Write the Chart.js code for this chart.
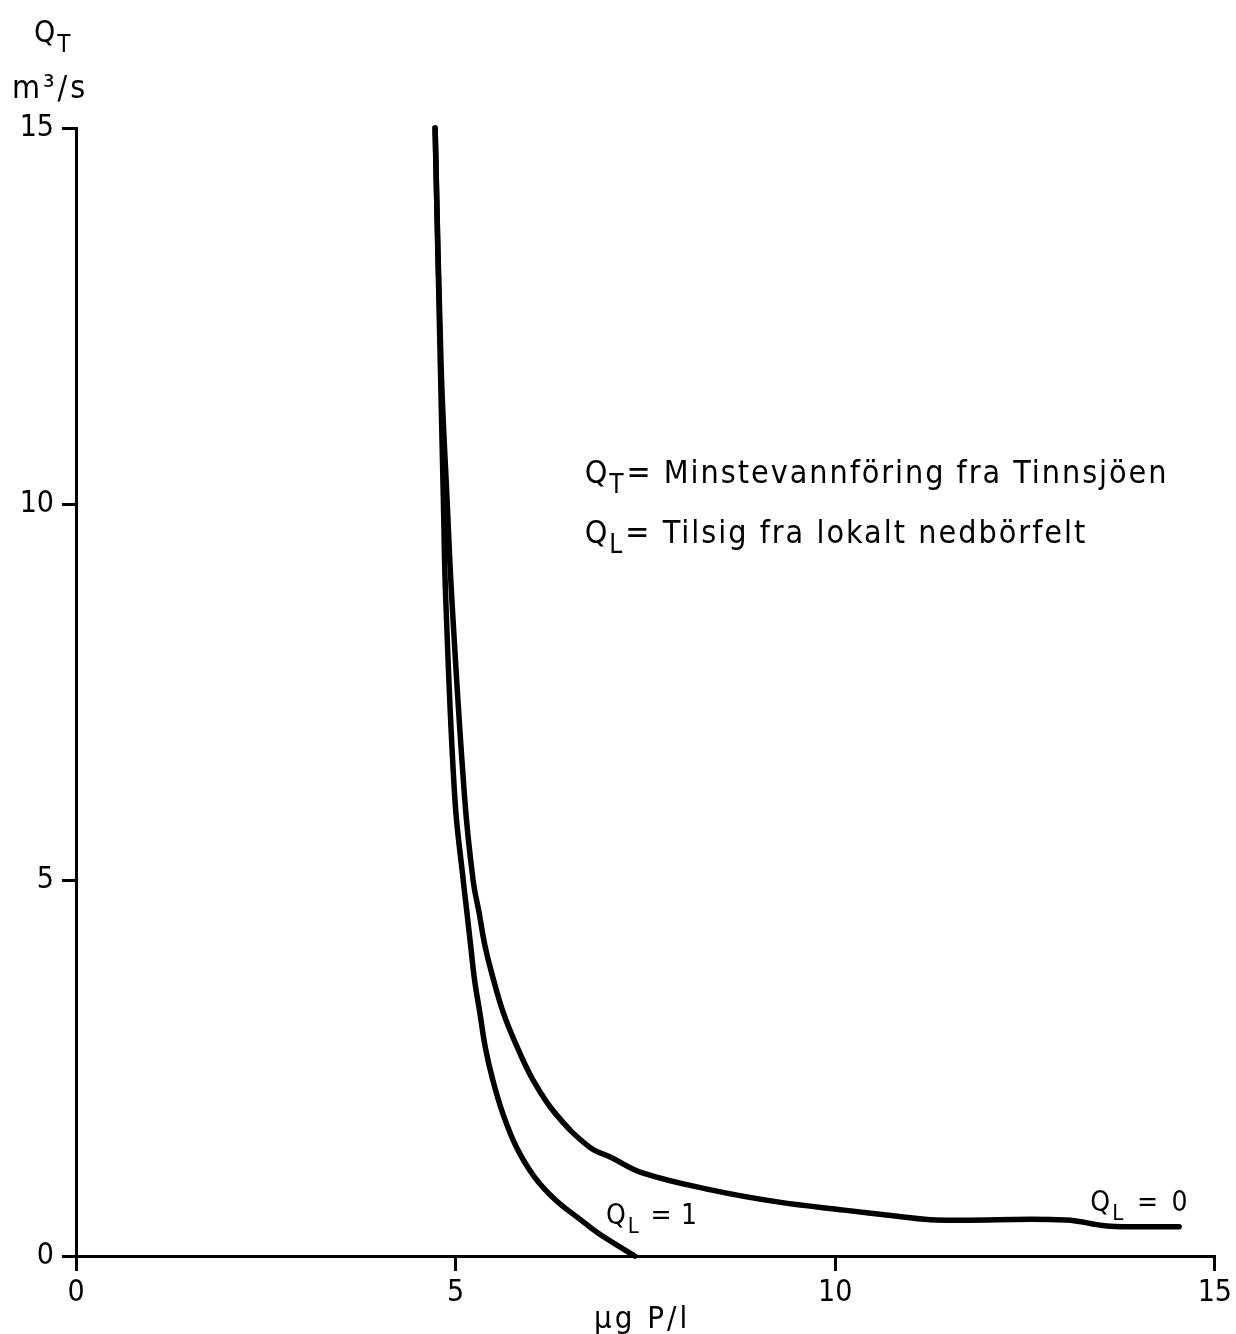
<!DOCTYPE html>
<html>
<head>
<meta charset="utf-8">
<script src="https://cdn.jsdelivr.net/npm/chart.js@4.4.0/dist/chart.umd.min.js"></script>
<style>
html, body { margin: 0; padding: 0; background: #fff; }
#wrap { width: 1236px; height: 1334px; position: relative; }
</style>
</head>
<body>
<div id="wrap"><canvas id="chart"></canvas></div>
<script>
// Dữ liệu
const X_MIN = 0, X_MAX = 15;
const Y_MIN = 0, Y_MAX = 15;
const TICK_STEP = 5;

// Đường Q_L = 0
const ql0X = [4.73, 4.81, 4.89, 4.95, 5.12, 5.23, 5.31, 5.39, 5.50, 5.63, 5.81, 6.02, 6.31, 6.76, 7.05, 7.45, 8.36, 9.24, 10.12, 10.82, 11.33, 13.04, 13.58, 14.53];
const ql0Y = [15.0, 11.8, 10.0, 8.74, 6.08, 5.00, 4.56, 4.11, 3.67, 3.23, 2.78, 2.34, 1.90, 1.45, 1.31, 1.11, 0.88, 0.72, 0.61, 0.53, 0.48, 0.48, 0.40, 0.39];

// Đường Q_L = 1
const ql1X = [4.73, 4.80, 4.84, 4.87, 4.99, 5.10, 5.15, 5.20, 5.25, 5.32, 5.39, 5.49, 5.62, 5.80, 6.04, 6.32, 6.61, 6.87, 7.36];
const ql1Y = [15.0, 11.8, 10.0, 8.74, 6.08, 5.00, 4.56, 4.11, 3.67, 3.23, 2.78, 2.34, 1.90, 1.45, 1.05, 0.74, 0.51, 0.31, 0.0];

// Nhãn
const yTitleMain = 'Q', yTitleSub = 'T', yUnit = 'm³/s';
const xTitle = 'µg P/l';
const legendLines = [
    { main: 'Q', sub: 'T', text: '= Minstevannföring fra Tinnsjöen', x: 6.70, y: 10.28, width: 542 },
    { main: 'Q', sub: 'L', text: '= Tilsig fra lokalt nedbörfelt', x: 6.70, y: 9.48, width: 462 }
];
const curveLabels = [
    { main: 'Q', sub: 'L', text: ' = 1', x: 6.98, y: 0.42, width: 56 },
    { main: 'Q', sub: 'L', text: ' = 0', x: 13.36, y: 0.60, width: 64 }
];

const FONT = '"Liberation Sans Narrow", "DejaVu Sans Condensed", "DejaVu Sans", sans-serif';

function toPoints(xs, ys) {
    return xs.map((x, i) => ({ x: x, y: ys[i] }));
}

// Vẽ chữ có chỉ số dưới (Q_T, Q_L), phần chữ sau được giãn cho vừa độ rộng
function drawSubText(ctx, main, sub, rest, x, y, size, width) {
    ctx.save();
    ctx.fillStyle = '#000';
    ctx.textBaseline = 'alphabetic';
    ctx.textAlign = 'left';
    ctx.font = size + 'px ' + FONT;
    ctx.letterSpacing = '0px';
    ctx.fillText(main, x, y);
    let cx = x + ctx.measureText(main).width + 2;
    ctx.font = Math.round(size * 0.8) + 'px ' + FONT;
    ctx.fillText(sub, cx, y + size * 0.32);
    cx += ctx.measureText(sub).width + 3;
    if (rest) {
        ctx.font = size + 'px ' + FONT;
        let spacing = 0;
        if (width) {
            const w = ctx.measureText(rest).width;
            spacing = Math.max(0, (width - w) / rest.length);
        }
        ctx.letterSpacing = spacing.toFixed(2) + 'px';
        ctx.fillText(rest, cx, y);
    }
    ctx.restore();
}

const textPlugin = {
    id: 'textPlugin',
    afterDraw(chart) {
        const ctx = chart.ctx;
        const xs = chart.scales.x, ys = chart.scales.y;

        // Tiêu đề trục y
        drawSubText(ctx, yTitleMain, yTitleSub, '', 34, 42, 30, 0);
        ctx.save();
        ctx.fillStyle = '#000';
        ctx.textAlign = 'left';
        ctx.textBaseline = 'alphabetic';
        ctx.font = '32px ' + FONT;
        ctx.letterSpacing = '3px';
        ctx.fillText(yUnit, 12, 98);
        // Tiêu đề trục x
        ctx.font = '31px ' + FONT;
        ctx.letterSpacing = '3px';
        ctx.fillText(xTitle, 594, 1328);
        ctx.restore();

        legendLines.forEach(l => {
            drawSubText(ctx, l.main, l.sub, l.text, xs.getPixelForValue(l.x), ys.getPixelForValue(l.y), 32, l.width);
        });
        curveLabels.forEach(l => {
            drawSubText(ctx, l.main, l.sub, l.text, xs.getPixelForValue(l.x), ys.getPixelForValue(l.y), 28, l.width);
        });
    }
};

const lineStyle = {
    borderColor: '#000',
    borderWidth: 5.5,
    pointRadius: 0,
    showLine: true,
    fill: false,
    tension: 0.4,
    clip: false,
    borderCapStyle: 'round',
    borderJoinStyle: 'round'
};

const ctx = document.getElementById('chart').getContext('2d');
const chart = new Chart(ctx, {
    type: 'scatter',
    data: {
        datasets: [
            Object.assign({ label: 'QL = 0', data: toPoints(ql0X, ql0Y) }, lineStyle),
            Object.assign({ label: 'QL = 1', data: toPoints(ql1X, ql1Y) }, lineStyle)
        ]
    },
    options: {
        responsive: true,
        maintainAspectRatio: false,
        animation: false,
        layout: { padding: { top: 128, right: 17, left: 0, bottom: 0 } },
        plugins: {
            legend: { display: false },
            tooltip: { enabled: false }
        },
        scales: {
            x: {
                type: 'linear',
                min: X_MIN,
                max: X_MAX,
                afterFit(scale) { scale.height = 78; },
                border: { color: '#000', width: 3 },
                grid: { drawOnChartArea: false, drawTicks: true, tickLength: 15, color: '#000', lineWidth: 3 },
                ticks: {
                    stepSize: TICK_STEP,
                    color: '#000',
                    padding: 4,
                    font: { family: FONT, size: 30 }
                }
            },
            y: {
                type: 'linear',
                min: Y_MIN,
                max: Y_MAX,
                afterFit(scale) { scale.width = 76; },
                border: { color: '#000', width: 3 },
                grid: { drawOnChartArea: false, drawTicks: true, tickLength: 14, color: '#000', lineWidth: 3 },
                ticks: {
                    stepSize: TICK_STEP,
                    color: '#000',
                    padding: 8,
                    font: { family: FONT, size: 30 }
                }
            }
        }
    },
    plugins: [textPlugin]
});
</script>
</body>
</html>
